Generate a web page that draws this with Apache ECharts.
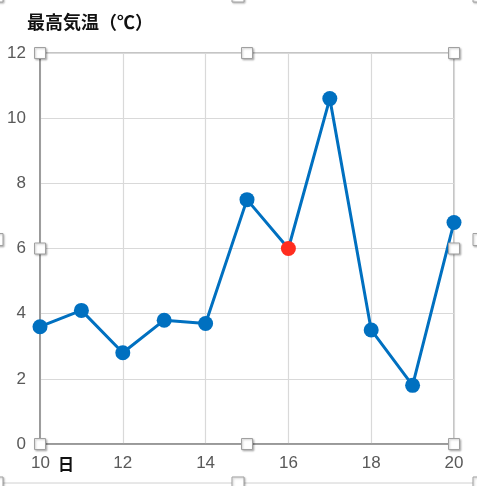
<!DOCTYPE html>
<html>
<head>
<meta charset="utf-8">
<script src="https://cdn.jsdelivr.net/npm/echarts@6/dist/echarts.min.js"></script>
<style>
  html, body { margin: 0; padding: 0; background: #fff; }
  #chart { width: 477px; height: 486px; }
</style>
</head>
<body>
<div id="chart"></div>
<script>
// 日付と最高気温
const days = [10, 11, 12, 13, 14, 15, 16, 17, 18, 19, 20];
const temps = [3.6, 4.1, 2.8, 3.8, 3.7, 7.5, 6.0, 10.6, 3.5, 1.8, 6.8];
const highlightDays = [16];

const lineColor = '#0070C0';
const highlightColor = '#FF2D1F';
const numFont = '"Liberation Sans Narrow", "Liberation Sans", sans-serif';
const cjkFont = '"Noto Sans CJK JP", sans-serif';

const chart = echarts.init(document.getElementById('chart'));

const seriesData = days.map((d, i) => {
    const item = { value: [d, temps[i]] };
    if (highlightDays.includes(d)) {
        item.itemStyle = { color: highlightColor };
    }
    return item;
});

chart.setOption({
    animation: false,
    title: {
        text: '最高気温（℃）',
        left: 22,
        top: 8,
        textStyle: { fontFamily: cjkFont, fontSize: 18, fontWeight: 'bold', color: '#111' }
    },
    grid: {
        left: 40, right: 23, top: 53, bottom: 42,
        show: true, borderColor: '#8a8a8a', borderWidth: 1
    },
    xAxis: {
        type: 'value',
        min: 10, max: 20, interval: 2,
        axisLine: { show: true, lineStyle: { color: '#8a8a8a', width: 1.5 } },
        axisTick: { show: false },
        splitLine: { show: true, lineStyle: { color: '#d9d9d9', width: 1.2 } },
        axisLabel: {
            margin: 11,
            fontFamily: numFont, fontSize: 17, color: '#595959',
            formatter: v => v === 10 ? '{p| }{n|10}{d|日}' : String(v),
            rich: {
                p: { width: 25 },
                n: { fontFamily: numFont, fontSize: 17, color: '#595959' },
                d: { fontFamily: cjkFont, fontSize: 16, color: '#111', padding: [0, 0, 0, 8], fontWeight: 'bold' }
            }
        }
    },
    yAxis: {
        type: 'value',
        min: 0, max: 12, interval: 2,
        axisLine: { show: true, lineStyle: { color: '#8a8a8a', width: 1.5 } },
        axisTick: { show: false },
        splitLine: { show: true, lineStyle: { color: '#d9d9d9', width: 1.2 } },
        axisLabel: { margin: 14, fontFamily: numFont, fontSize: 17, color: '#595959' }
    },
    series: [{
        type: 'line',
        data: seriesData,
        symbol: 'circle',
        symbolSize: 15,
        lineStyle: { color: lineColor, width: 3 },
        itemStyle: { color: lineColor },
        z: 3
    }]
});

// 選択ハンドル（プロットエリアとグラフエリア）
const handle = (x, y, size) => ({
    type: 'rect',
    z: 100,
    shape: { x: x - size / 2, y: y - size / 2, width: size, height: size },
    style: {
        fill: '#fff', stroke: '#a0a0a0', lineWidth: 1,
        shadowBlur: 2, shadowColor: 'rgba(0,0,0,0.25)', shadowOffsetX: 1, shadowOffsetY: 1
    }
});

const xs = [10, 15, 20];
const ys = [0, 6, 12];
const plotHandles = [];
xs.forEach(xv => {
    ys.forEach(yv => {
        if (xv === 15 && yv === 6) return;
        const p = chart.convertToPixel({ gridIndex: 0 }, [xv, yv]);
        plotHandles.push(handle(p[0], p[1], 11));
    });
});

const W = chart.getWidth();
const H = chart.getHeight();
const outer = { x: -3, y: -4, w: W + 5, h: H + 1 };
const outerHandles = [];
[outer.x, outer.x + outer.w / 2, outer.x + outer.w].forEach(x => {
    [outer.y, outer.y + outer.h / 2, outer.y + outer.h].forEach(y => {
        if (x === outer.x + outer.w / 2 && y === outer.y + outer.h / 2) return;
        outerHandles.push(handle(x, y, 12));
    });
});

chart.setOption({
    graphic: [
        {
            type: 'rect', z: 90, silent: true,
            shape: { x: outer.x, y: outer.y, width: outer.w, height: outer.h },
            style: { fill: 'none', stroke: '#d0d0d0', lineWidth: 1 }
        },
        ...outerHandles,
        ...plotHandles
    ]
});

window.addEventListener('resize', () => chart.resize());
</script>
</body>
</html>
